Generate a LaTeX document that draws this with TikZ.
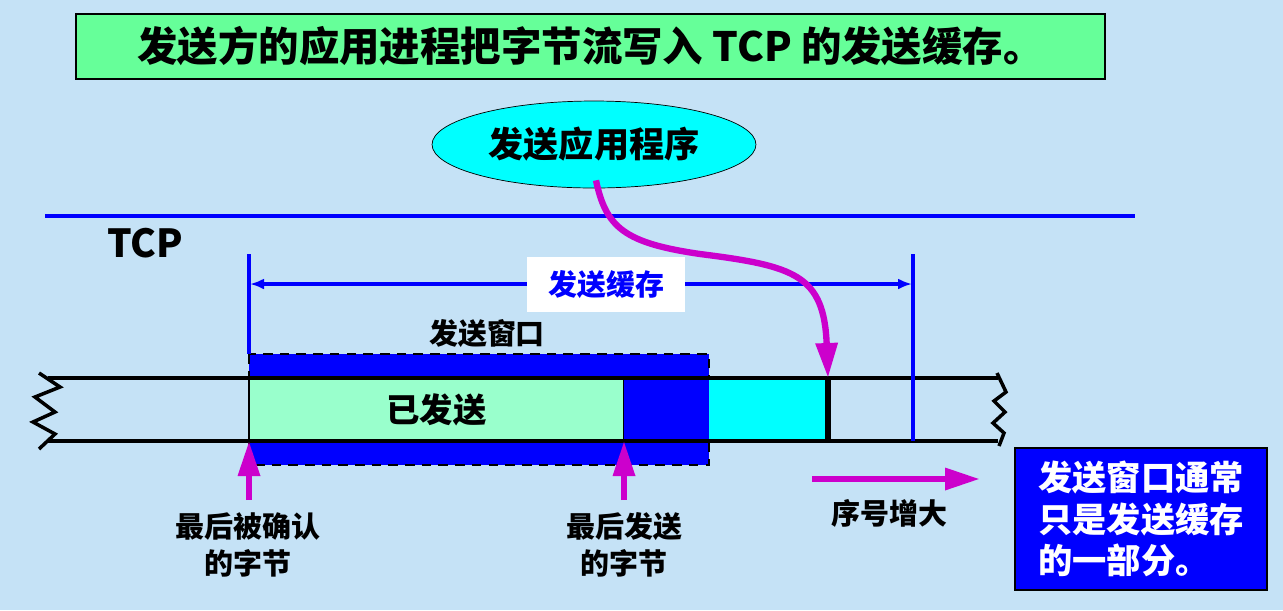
\documentclass[tikz,border=0pt]{standalone}
\usepackage{fontspec}
\setmainfont{Noto Sans CJK SC}
\usetikzlibrary{arrows.meta,shapes.geometric,positioning,calc}
\definecolor{backColor}{RGB}{197,226,246}
\definecolor{titleColor}{RGB}{102,255,153}
\definecolor{sentColor}{RGB}{153,255,204}
\definecolor{pushColor}{RGB}{204,0,204}
\definecolor{aquaColor}{RGB}{0,255,255}
\tikzset{textnode/.style={font=\fontsize{16.5}{21}\selectfont\bfseries, align=center, inner sep=0pt}}
\tikzset{titlebox/.style={draw, line width=1.2pt, fill=titleColor, minimum width=20.58cm, minimum height=1.3cm, font=\fontsize{23}{27}\selectfont\bfseries}}
\tikzset{appbox/.style={ellipse, draw, fill=aquaColor, inner sep=0pt, minimum width=6.48cm, minimum height=1.74cm, font=\fontsize{20}{24}\selectfont\bfseries}}
\tikzset{notebox/.style={draw, line width=1.2pt, fill=blue, text=white, align=left, minimum width=5.04cm, minimum height=2.84cm, font=\fontsize{19.5}{23.5}\selectfont\bfseries}}
\tikzset{stripline/.style={line width=2pt, line join=miter}}
\tikzset{bufline/.style={blue, line width=2.2pt}}
\tikzstyle{pusharrow} = [pushColor, line width=3.6pt, -{Triangle[length=0.7cm, width=0.42cm]}]
\tikzstyle{bufarrow} = [blue, line width=2pt, {Latex[length=0.28cm, width=0.22cm]}-{Latex[length=0.28cm, width=0.22cm]}]

\begin{document}
\begin{tikzpicture}[x=0.02cm, y=-0.02cm]
	% Background
	\fill[backColor] (0,0) rectangle (1283,610);

	% Nodes
	\node (title) [titlebox] at (590.5,46.5) {发送方的应用进程把字节流写入 TCP 的发送缓存。};
	\node (app) [appbox] at (594,144.5) {发送应用程序};
	\draw[bufline, line width=2.4pt] (45,216) -- (1135,216);
	\node (tcp) [textnode, font=\fontsize{22}{26}\selectfont\bfseries] at (145,243) {TCP};

	% Send window and buffer cells
	\draw[fill=blue, line width=1.6pt, dash pattern=on 5.5pt off 4pt] (249,354) rectangle (709,465);
	\draw[line width=0.8pt, fill=sentColor] (249,378) rectangle node (sent) [textnode, font=\fontsize{19}{23}\selectfont\bfseries] {已发送} (624,441);
	\fill[blue] (624,378) rectangle (709,441);
	\fill[aquaColor] (709,378) rectangle (826,441);
	\draw[line width=3pt] (828,378) -- (828,441);

	\draw[stripline] (48,378) -- (998,378);
	\draw[stripline] (47,441) -- (998,441);
	\draw[stripline] (39,373) -- (60,387) -- (35,397) -- (55,412) -- (33,422) -- (55,434) -- (39,449);
	\draw[stripline] (997,373) -- (1006,392) -- (994,401) -- (1005,412) -- (993,423) -- (1004,433) -- (999,446);

	\draw[bufline] (249,254) -- (249,354);
	\draw[bufline] (913,254) -- (913,441);

	\node (winlbl) [textnode] at (487,333) {发送窗口};
	\node (acklbl) [textnode] at (248,545) {最后被确认\\的字节};
	\node (sndlbl) [textnode] at (624,545) {最后发送\\的字节};
	\node (growlbl) [textnode] at (889,513) {序号增大};
	\node (note) [notebox] at (1141,519) {发送窗口通常\\只是发送缓存\\的一部分。};

	\coordinate (bufL) at (250,284);
	\coordinate (bufR) at (912,284);
	\coordinate (ackTail) at (249,500);
	\coordinate (lastAck) at (249,441);
	\coordinate (sndTail) at (624,500);
	\coordinate (lastSnd) at (624,441);
	\coordinate (growTail) at (812,479);
	\coordinate (growTip) at (980,479);
	\coordinate (pushBend) at (700,254);
	\coordinate (pushTip) at (828,378);

	% Connectors
	\draw [bufarrow] (bufL) -- (bufR);
	\node (buflbl) [fill=white, text=blue, minimum width=3.16cm, minimum height=1.1cm, font=\fontsize{16.5}{20}\selectfont\bfseries] at (606,284.5) {发送缓存};

	\draw [pusharrow] ([shift={(2,-8)}]app.south) .. controls (606,228) and (625,243) .. (pushBend) .. controls (795,266) and (824,275) .. (pushTip);
	\draw [pusharrow] (ackTail) -- (lastAck);
	\draw [pusharrow] (sndTail) -- (lastSnd);
	\draw [pusharrow] (growTail) -- (growTip);

\end{tikzpicture}
\end{document}
